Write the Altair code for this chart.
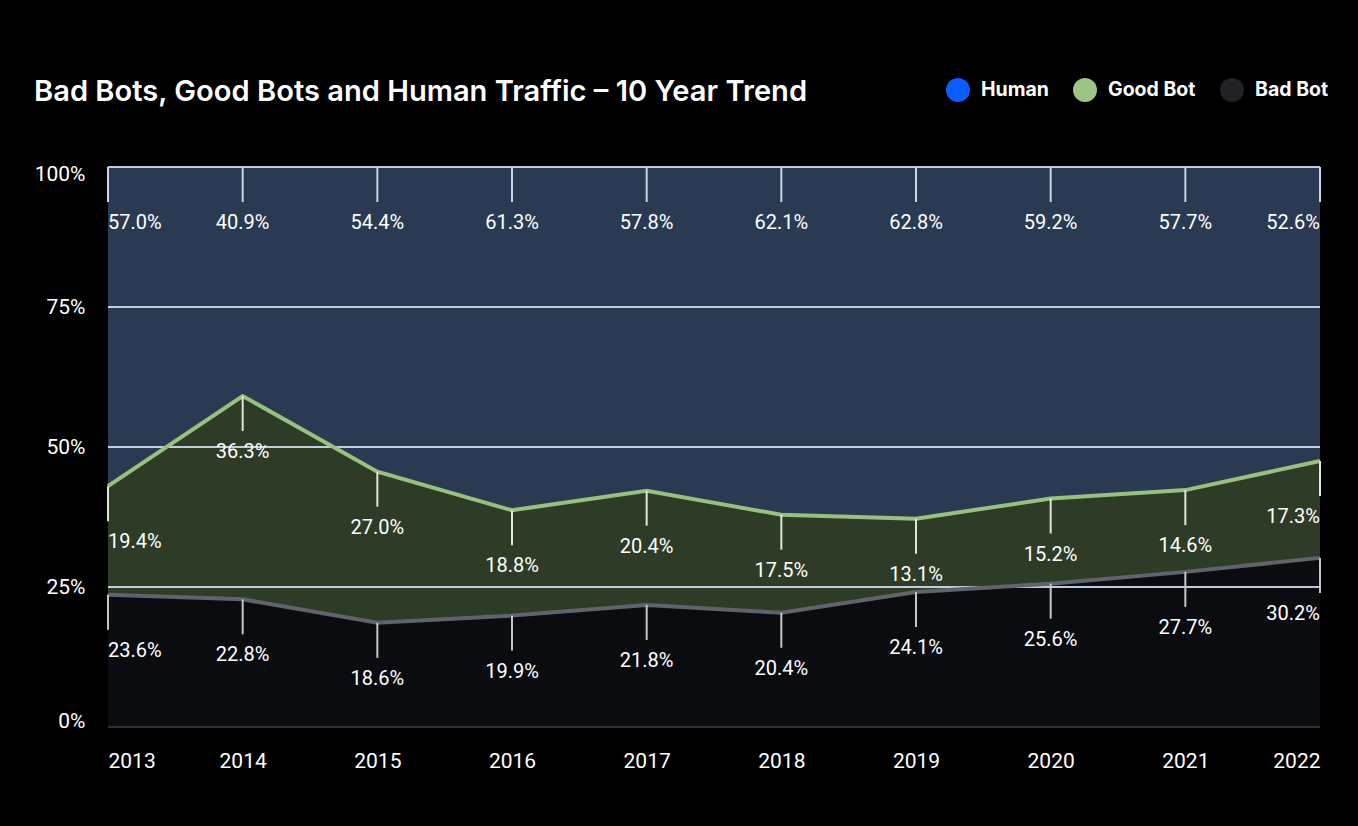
import altair as alt
import pandas as pd

# Share of web traffic per year, in percent
years = [2013, 2014, 2015, 2016, 2017, 2018, 2019, 2020, 2021, 2022]
bad_bot = [23.6, 22.8, 18.6, 19.9, 21.8, 20.4, 24.1, 25.6, 27.7, 30.2]
good_bot = [19.4, 36.3, 27.0, 18.8, 20.4, 17.5, 13.1, 15.2, 14.6, 17.3]
human = [57.0, 40.9, 54.4, 61.3, 57.8, 62.1, 62.8, 59.2, 57.7, 52.6]

series_names = ["Human", "Good Bot", "Bad Bot"]
legend_colors = ["#0a5cff", "#9cc484", "#222326"]
grid_levels = [25, 50, 75, 100]

# Stacked boundaries: bad bot at the bottom, good bot above it, human on top
df = pd.DataFrame({"year": years, "bad": bad_bot, "good": good_bot, "human": human})
df["good_top"] = df["bad"] + df["good"]
df["top"] = 100.0
df["bad_label"] = df["bad"].map(lambda v: f"{v:.1f}%")
df["good_label"] = df["good"].map(lambda v: f"{v:.1f}%")
df["human_label"] = df["human"].map(lambda v: f"{v:.1f}%")

grid_df = pd.DataFrame({"level": grid_levels})
legend_df = pd.DataFrame({"series": series_names, "year": [years[0]] * 3, "v": [0.0] * 3})

X = alt.X(
    "year:Q",
    scale=alt.Scale(domain=[years[0], years[-1]], nice=False, zero=False),
    axis=alt.Axis(
        values=years, format="d", title=None, grid=False, domain=False, ticks=False,
        labelFlush=True, labelPadding=23, labelFontSize=21, labelColor="#ffffff",
        labelFont="Roboto",
    ),
)
YSCALE = alt.Scale(domain=[0, 100], nice=False)
Y_AXIS = alt.Axis(
    values=[0, 25, 50, 75, 100], labelExpr="datum.value + '%'", title=None, grid=False,
    domain=False, ticks=False, labelPadding=23, labelFontSize=21, labelColor="#ffffff",
    labelFont="Roboto", labelFlush=True, labelFlushOffset=4,
)

base = alt.Chart(df)

human_area = base.mark_area(color="#2b3a53", opacity=1).encode(
    x=X, y=alt.Y("good_top:Q", scale=YSCALE, axis=Y_AXIS), y2="top:Q"
)
good_area = base.mark_area(color="#2e3b27", opacity=1).encode(
    x=X, y=alt.Y("good_top:Q", scale=YSCALE), y2="bad:Q"
)
bad_area = base.mark_area(color="#0b0c10", opacity=1).encode(
    x=X, y=alt.Y("bad:Q", scale=YSCALE), y2=alt.datum(0)
)

grid = alt.Chart(grid_df).mark_rule(color="#d4def0", strokeWidth=2, opacity=0.9).encode(
    y=alt.Y("level:Q", scale=YSCALE)
)
zero_line = alt.Chart(grid_df).mark_rule(color="#2e3034", strokeWidth=2).encode(
    y=alt.datum(0)
)

good_line = base.mark_line(color="#98c07f", strokeWidth=4).encode(
    x=X, y=alt.Y("good_top:Q", scale=YSCALE)
)
bad_line = base.mark_line(color="#5f636b", strokeWidth=4).encode(
    x=X, y=alt.Y("bad:Q", scale=YSCALE)
)

# Short leader ticks hanging below each data point
def leaders(field, color):
    return base.mark_rule(color=color, strokeWidth=2, y2Offset=35).encode(
        x=X, y=alt.Y(f"{field}:Q", scale=YSCALE), y2=f"{field}:Q"
    )

human_ticks = leaders("top", "#c9d4e8")
good_ticks = leaders("good_top", "#dfe6d6")
bad_ticks = leaders("bad", "#c4c6ca")

def value_labels(pos_field, text_field):
    layers = []
    for cond, align in [
        (f"datum.year == {years[0]}", "left"),
        (f"datum.year > {years[0]} && datum.year < {years[-1]}", "center"),
        (f"datum.year == {years[-1]}", "right"),
    ]:
        layers.append(
            base.transform_filter(cond)
            .mark_text(align=align, baseline="middle", dy=56, fontSize=20,
                       font="Roboto", color="#ffffff")
            .encode(x=X, y=alt.Y(f"{pos_field}:Q", scale=YSCALE), text=f"{text_field}:N")
        )
    return layers

labels = (
    value_labels("top", "human_label")
    + value_labels("good_top", "good_label")
    + value_labels("bad", "bad_label")
)

legend_layer = alt.Chart(legend_df).mark_point(filled=True, opacity=0).encode(
    x=X,
    y=alt.Y("v:Q", scale=YSCALE),
    color=alt.Color(
        "series:N",
        scale=alt.Scale(domain=series_names, range=legend_colors),
        legend=alt.Legend(
            title=None, orient="none", legendX=838, legendY=-89, direction="horizontal",
            symbolType="circle", symbolSize=576, symbolOpacity=1, symbolStrokeWidth=0,
            labelFont="Inter", labelFontWeight="bold", labelFontSize=19.5,
            labelColor="#ffffff", labelOffset=11, columnPadding=24,
        ),
    ),
)

chart = (
    alt.layer(
        human_area, good_area, bad_area, grid, zero_line, good_line, bad_line,
        human_ticks, good_ticks, bad_ticks, *labels, legend_layer,
    )
    .properties(
        width=1212,
        height=560,
        background="#000000",
        padding={"left": 108, "top": 167, "right": 38, "bottom": 99},
        autosize=alt.AutoSizeParams(type="none"),
        title=alt.TitleParams(
            "Bad Bots, Good Bots and Human Traffic \u2013 10 Year Trend",
            anchor="start", frame="group", dx=-74, dy=91, offset=62,
            font="Inter", fontSize=29.1, fontWeight=600, color="#ffffff",
        ),
    )
    .configure_view(stroke=None)
)

chart.save("out.html", embed_options={"renderer": "svg", "actions": False})
